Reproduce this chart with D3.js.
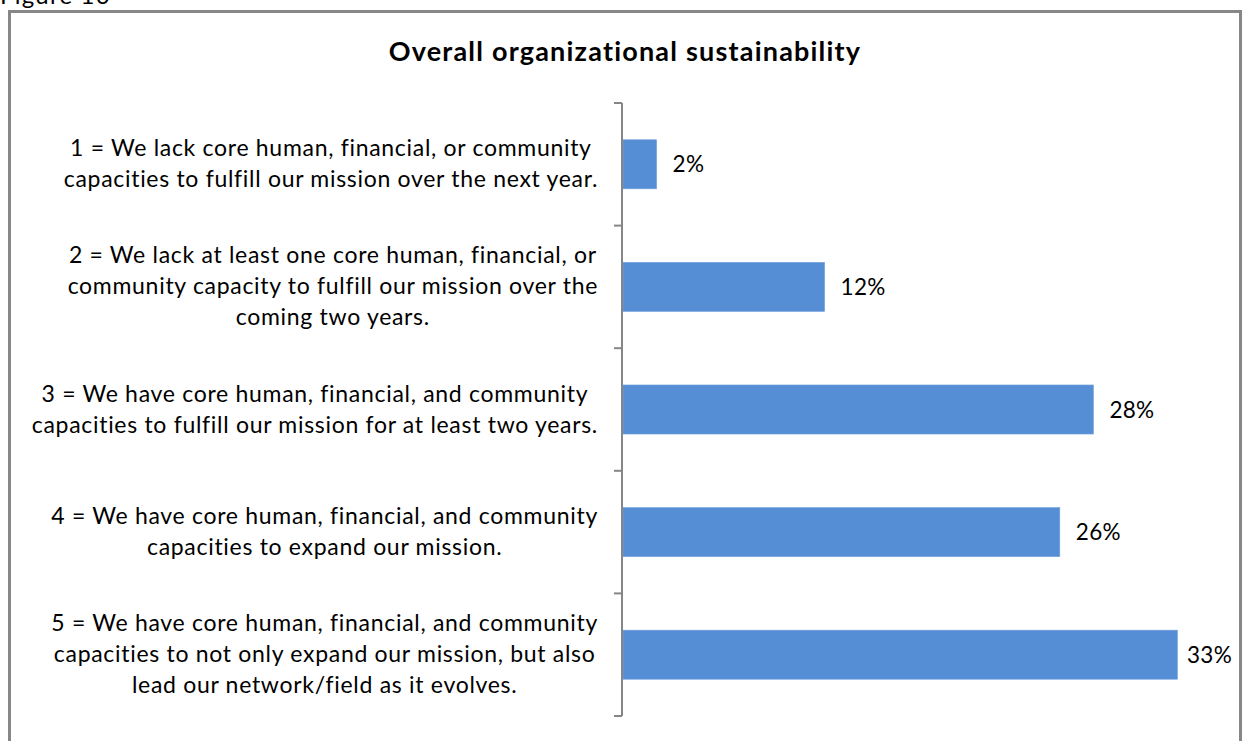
<!DOCTYPE html>
<html><head><meta charset="utf-8">
<script src="https://cdn.jsdelivr.net/npm/d3@7"></script>
<style>
html,body{margin:0;padding:0;background:#fff;}
svg{display:block;font-family:Lato,"Open Sans",sans-serif;}
</style></head>
<body><svg id="c" width="1243" height="741"></svg>
<script>
const categories = [
  ["1 = We lack core human, financial, or community", "capacities to fulfill our mission over the next year."],
  ["2 = We lack at least one core human, financial, or", "community capacity to fulfill our mission over the", "coming two years."],
  ["3 = We have core human, financial, and community", "capacities to fulfill our mission for at least two years."],
  ["4 = We have core human, financial, and community", "capacities to expand our mission."],
  ["5 = We have core human, financial, and community", "capacities to not only expand our mission, but also", "lead our network/field as it evolves."]
];
const values = [0.02, 0.12, 0.28, 0.26, 0.33];
const valueLabels = ["2%", "12%", "28%", "26%", "33%"];
const title = "Overall organizational sustainability";
const figureLabel = "Figure 10";

const svg = d3.select("#c");
const keys = categories.map((c, i) => i);

const y = d3.scaleBand().domain(keys).range([103, 716]).paddingInner(0.6).paddingOuter(0.3);
const x = d3.scaleLinear().domain([0, 0.35]).range([623, 1211]);

// figure label (cut at top, as in the source page)
svg.append("text").attr("x", 0).attr("y", 4).attr("font-size", 24).attr("letter-spacing", 1.2)
  .attr("fill", "#000").text(figureLabel);

// border
svg.append("rect").attr("x", 9.5).attr("y", 11.5).attr("width", 1231).attr("height", 760)
  .attr("fill", "none").attr("stroke", "#878787").attr("stroke-width", 3);

// title
svg.append("text").attr("x", 625).attr("y", 61).attr("text-anchor", "middle")
  .attr("font-size", 27).attr("font-weight", "bold").attr("letter-spacing", 1.2)
  .attr("fill", "#000").text(title);

// bars
svg.selectAll("rect.bar").data(values).join("rect").attr("class", "bar")
  .attr("x", x(0)).attr("y", (d, i) => y(i))
  .attr("width", d => x(d) - x(0)).attr("height", y.bandwidth())
  .attr("fill", "#558ed5").attr("stroke", "#6f9fdc").attr("stroke-width", 0.6);

// value labels
svg.selectAll("text.val").data(values).join("text").attr("class", "val")
  .attr("y", (d, i) => y(i) + y.bandwidth() / 2)
  .attr("dy", "0.36em").attr("font-size", 22.5).attr("letter-spacing", 0.3).attr("fill", "#000")
  .text((d, i) => valueLabels[i])
  .attr("x", function (d) {
    const w = this.getComputedTextLength();
    return Math.min(x(d) + 16, 1232 - w);
  });

// axis
const ax = svg.append("g").attr("stroke", "#868686").attr("stroke-width", 2);
const [r0, r1] = y.range();
ax.append("line").attr("x1", x(0) - 1).attr("x2", x(0) - 1).attr("y1", r0).attr("y2", r1);
const gap = y.step() * y.paddingInner() / 2;
const bounds = [r0].concat(keys.map(k => y(k) + y.bandwidth() + gap));
bounds[bounds.length - 1] = r1;
ax.selectAll("line.tick").data(bounds).join("line").attr("class", "tick")
  .attr("x1", x(0) - 9).attr("x2", x(0) - 1).attr("y1", d => d).attr("y2", d => d);

// category labels
const lineH = 31;
const fs = 23;
categories.forEach((lines, i) => {
  const g = svg.append("g");
  const t = g.append("text").attr("font-size", fs).attr("letter-spacing", 0.7)
    .attr("fill", "#000").attr("text-anchor", "middle");
  const cy = y(i) + y.bandwidth() / 2;
  const n = lines.length;
  lines.forEach((l, j) => {
    t.append("tspan").attr("x", 0).attr("y", cy + (j - (n - 1) / 2) * lineH + 7.5).text(l);
  });
  const w = t.node().getBBox().width;
  t.attr("transform", `translate(${598 - w / 2},0)`);
});
</script></body></html>
